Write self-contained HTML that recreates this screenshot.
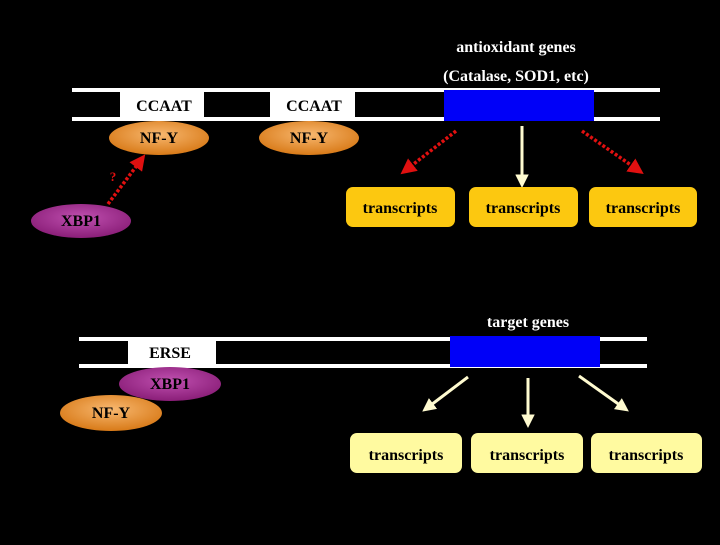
<!DOCTYPE html>
<html><head><style>
body{margin:0;background:#000;width:720px;height:540px;overflow:hidden}
svg text{font-family:"Liberation Serif",serif;font-weight:bold;font-size:16px;text-anchor:middle}
</style></head><body>
<svg width="720" height="540" viewBox="0 0 720 540">
<defs>
<radialGradient id="o" cx="50%" cy="40%" r="60%"><stop offset="0" stop-color="#f8b870"/><stop offset="1" stop-color="#d87a18"/></radialGradient>
<radialGradient id="p" cx="50%" cy="40%" r="60%"><stop offset="0" stop-color="#c050b0"/><stop offset="1" stop-color="#8a1e78"/></radialGradient>
<marker id="ar" markerWidth="4.5" markerHeight="4.5" refX="2.5" refY="2.25" orient="auto"><path d="M0,0L4.5,2.25L0,4.5z" fill="#e01010"/></marker>
<marker id="aw" markerWidth="4.5" markerHeight="4.5" refX="2.5" refY="2.25" orient="auto"><path d="M0,0L4.5,2.25L0,4.5z" fill="#fffbd0"/></marker>
</defs>
<text x="516" y="52" fill="#fff">antioxidant genes</text>
<text x="516" y="81" fill="#fff">(Catalase, SOD1, etc)</text>
<rect x="72" y="88" width="588" height="4" fill="#fff"/>
<rect x="72" y="117" width="588" height="4" fill="#fff"/>
<rect x="120" y="91" width="84" height="27" fill="#fff"/>
<rect x="270" y="91" width="85" height="27" fill="#fff"/>
<text x="164" y="111" fill="#000">CCAAT</text>
<text x="314" y="111" fill="#000">CCAAT</text>
<rect x="444" y="90" width="150" height="31" fill="#0000f8"/>
<ellipse cx="159" cy="138" rx="50" ry="17" fill="url(#o)"/>
<ellipse cx="309" cy="138" rx="50" ry="17" fill="url(#o)"/>
<text x="159" y="143" fill="#000">NF-Y</text>
<text x="309" y="143" fill="#000">NF-Y</text>
<ellipse cx="81" cy="221" rx="50" ry="17" fill="url(#p)"/>
<text x="81" y="226" fill="#000">XBP1</text>
<line x1="108" y1="204" x2="141" y2="160" stroke="#e01010" stroke-width="3.5" stroke-dasharray="3,2" marker-end="url(#ar)"/>
<text x="113" y="181" fill="#e01010" style="font-size:13px">?</text>
<line x1="456" y1="131" x2="406" y2="170" stroke="#e01010" stroke-width="3.5" stroke-dasharray="3,2" marker-end="url(#ar)"/>
<line x1="522" y1="126" x2="522" y2="182" stroke="#fffbd0" stroke-width="3" marker-end="url(#aw)"/>
<line x1="582" y1="131" x2="638" y2="170" stroke="#e01010" stroke-width="3.5" stroke-dasharray="3,2" marker-end="url(#ar)"/>
<g fill="#fcc810"><rect x="346" y="187" width="109" height="40" rx="7"/><rect x="469" y="187" width="109" height="40" rx="7"/><rect x="589" y="187" width="108" height="40" rx="7"/></g>
<text x="400" y="213" fill="#000">transcripts</text>
<text x="523" y="213" fill="#000">transcripts</text>
<text x="643" y="213" fill="#000">transcripts</text>
<text x="528" y="327" fill="#fff">target genes</text>
<rect x="79" y="337" width="568" height="4" fill="#fff"/>
<rect x="79" y="364" width="568" height="4" fill="#fff"/>
<rect x="128" y="340" width="88" height="26" fill="#fff"/>
<text x="170" y="358" fill="#000">ERSE</text>
<rect x="450" y="336" width="150" height="31" fill="#0000f8"/>
<ellipse cx="170" cy="384" rx="51" ry="17" fill="url(#p)"/>
<text x="170" y="389" fill="#000">XBP1</text>
<ellipse cx="111" cy="413" rx="51" ry="18" fill="url(#o)"/>
<text x="111" y="418" fill="#000">NF-Y</text>
<line x1="468" y1="377" x2="427" y2="408" stroke="#fffbd0" stroke-width="3" marker-end="url(#aw)"/>
<line x1="528" y1="378" x2="528" y2="422" stroke="#fffbd0" stroke-width="3" marker-end="url(#aw)"/>
<line x1="579" y1="376" x2="624" y2="408" stroke="#fffbd0" stroke-width="3" marker-end="url(#aw)"/>
<g fill="#fffaa0"><rect x="350" y="433" width="112" height="40" rx="7"/><rect x="471" y="433" width="112" height="40" rx="7"/><rect x="591" y="433" width="111" height="40" rx="7"/></g>
<text x="406" y="460" fill="#000">transcripts</text>
<text x="527" y="460" fill="#000">transcripts</text>
<text x="646" y="460" fill="#000">transcripts</text>
</svg>
</body></html>
